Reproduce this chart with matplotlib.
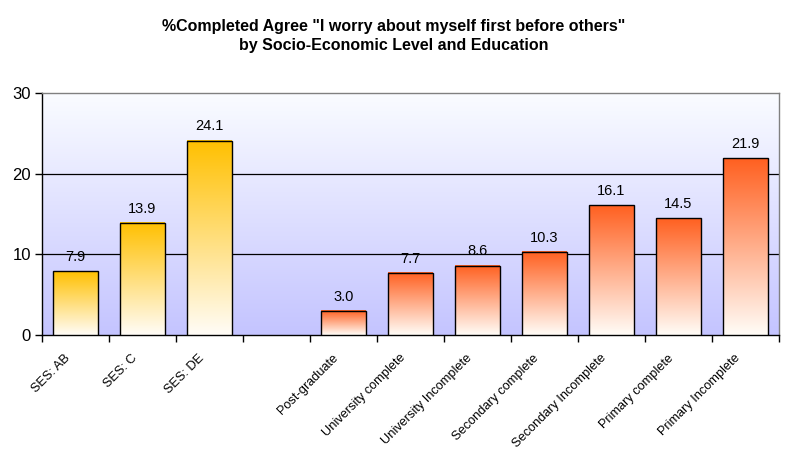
import matplotlib
matplotlib.use("Agg")
import matplotlib.pyplot as plt
import numpy as np
from matplotlib.colors import to_rgb

plt.rcParams['font.family'] = ['Liberation Sans', 'DejaVu Sans']

title = '%Completed Agree "I worry about myself first before others"\nby Socio-Economic Level and Education'
ses_labels = ['SES: AB', 'SES: C', 'SES: DE']
ses_values = [7.9, 13.9, 24.1]
edu_labels = ['Post-graduate', 'University complete', 'University Incomplete',
              'Secondary complete', 'Secondary Incomplete', 'Primary complete',
              'Primary Incomplete']
edu_values = [3.0, 7.7, 8.6, 10.3, 16.1, 14.5, 21.9]
yticks = [0, 10, 20, 30]

ses_color = '#FFC000'
edu_color = '#FF6020'

fig = plt.figure(figsize=(7.87, 4.65), dpi=100)
ax = fig.add_axes([42/787, 1-335/465, (779-42)/787, (335-93)/465])

# background gradient
top = np.array([250, 252, 255]) / 255
bot = np.array([196, 196, 255]) / 255
t = np.linspace(0, 1, 256)[:, None]
bg = top[None, :] * (1 - t) + bot[None, :] * t
ax.imshow(bg[:, None, :].repeat(2, axis=1), extent=[0, 1, 0, 1], transform=ax.transAxes,
          aspect='auto', zorder=0)

labels = ses_labels + [''] + edu_labels
values = ses_values + [None] + edu_values
colors = [ses_color] * len(ses_labels) + [None] + [edu_color] * len(edu_labels)
n = len(labels)
x = np.arange(n)
width = 0.66

white = np.array([1.0, 0.99, 0.97])
for xi, v, c in zip(x, values, colors):
    if v is None:
        continue
    cc = np.array(to_rgb(c))
    tt = np.linspace(0, 1, 256)[:, None]
    g = cc[None, :] * (1 - tt) + white[None, :] * tt
    g = g[:, None, :].repeat(2, axis=1)
    ax.imshow(g, extent=[xi - width/2, xi + width/2, 0, v], aspect='auto', zorder=3)
    ax.bar(xi, v, width=width, facecolor='none', edgecolor='black', linewidth=1.0, zorder=4)
    ax.text(xi, v + 0.9, f'{v:.1f}', ha='center', va='bottom', fontsize=10.5, zorder=5)

ax.set_xlim(-0.5, n - 0.5)
ax.set_ylim(0, 30)
ax.set_aspect('auto')

for yv in yticks[1:-1]:
    ax.axhline(yv, color='black', linewidth=0.9, zorder=1)

ax.set_yticks(yticks)
ax.set_yticklabels([str(v) for v in yticks], fontsize=12)
ax.set_xticks(np.arange(n + 1) - 0.5, minor=False)
ax.set_xticklabels([])
ax.tick_params(axis='x', length=5, width=1, direction='out')
ax.tick_params(axis='y', length=5, width=1, direction='out', pad=3)

xtr = ax.get_xaxis_transform()
for xi, lab in zip(x, labels):
    if lab:
        ax.text(xi - 0.17, -0.07, lab, rotation=45, ha='right', va='top', fontsize=9.2,
                rotation_mode='anchor', transform=xtr)

for s in ['top', 'right']:
    ax.spines[s].set_color('#808080')
    ax.spines[s].set_linewidth(1.0)
for s in ['left', 'bottom']:
    ax.spines[s].set_color('black')
    ax.spines[s].set_linewidth(1.0)

fig.text(0.5, 1 - 36/465, title, ha='center', va='center', fontsize=11.5,
         fontweight='bold', linespacing=1.4)

fig.savefig('out.png', dpi=100)
